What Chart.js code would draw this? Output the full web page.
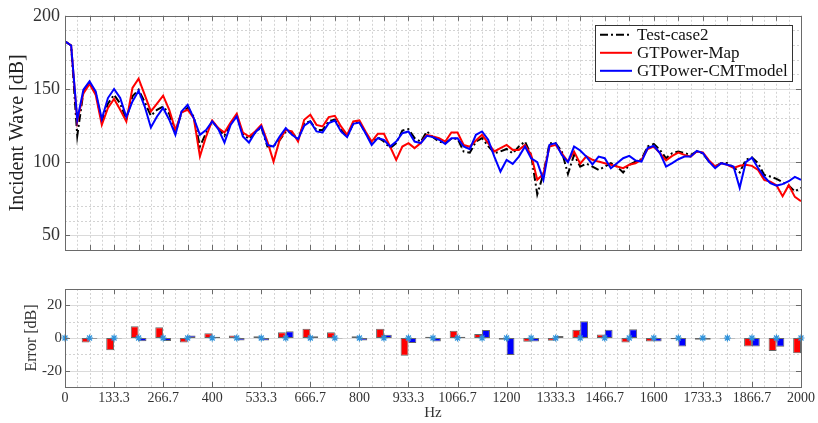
<!DOCTYPE html>
<html>
<head>
<meta charset="utf-8">
<title>Incident wave spectrum</title>
<script src="https://cdn.jsdelivr.net/npm/chart.js@4.4.0/dist/chart.umd.min.js"></script>
<style>
  body { margin: 0; background: #fff; }
  #wrap { position: relative; width: 818px; height: 423px; }
  canvas { position: absolute; left: 0; }
  #wave { top: 0; }
  #err { top: 270px; }
</style>
</head>
<body>
<div id="wrap">
  <canvas id="wave" width="818" height="270"></canvas>
  <canvas id="err" width="818" height="153"></canvas>
</div>
<script>
// spectrum, one value per 16.67 Hz bin from 0 to 2000 Hz
const waveTest = [
  182.6, 179.7, 118, 148, 154, 147, 128, 140, 146, 140,
  129, 145, 149.5, 141, 131.7, 135.8, 138, 133, 120, 134,
  137, 131, 110.7, 120, 128, 123, 118, 126, 132, 119,
  116, 120, 124, 110.7, 111, 115, 121, 120, 116, 126.7,
  127.8, 122, 122, 128, 129, 122, 117.5, 126.5, 127.5, 120,
  113, 117, 114.1, 109.6, 113, 121.6, 122.6, 116.4, 114, 121,
  117, 114, 113, 116, 116, 107.3, 106.5, 114, 116.4, 111,
  106.2, 107.3, 109, 106, 110.7, 114.1, 105, 78, 92, 113,
  113, 107.3, 92, 105, 97, 99, 97, 94.7, 97, 99.3,
  97, 92.9, 98.2, 100.4, 102, 110.7, 112.5, 108.4, 102.7, 106.2,
  107.3, 106.2, 105, 107.3, 106, 100.4, 97, 99.5, 99.3, 96.5,
  93, 101.6, 103.2, 99.3, 91.3, 90.2, 88.6, 86.3, 84, 80, 82.5
];
const waveMap = [
  182.6, 179.7, 127.8, 147, 153.4, 146, 125.5, 137, 143.2, 135.8,
  127.8, 150.7, 157, 146, 134.7, 140, 145.4, 135.8, 122, 134,
  135.8, 130, 104, 117.5, 128.5, 123.3, 120.3, 127.1, 133.1, 120.3,
  117.5, 121, 125.5, 114.1, 100.4, 115.3, 122, 121, 114.1, 129,
  132.4, 125.5, 124.4, 130.8, 131.7, 124.4, 118.7, 127.8, 128.5, 121,
  114.1, 119.4, 119.4, 110.7, 101.6, 110.7, 113, 109.6, 113, 118.7,
  117.5, 116.4, 114.1, 120.3, 120.3, 111.8, 110.5, 114.8, 118.7, 113,
  107.3, 109.6, 111.8, 108.4, 108.4, 111.8, 105, 88, 92, 110.7,
  111.8, 106, 100.4, 107.3, 99, 104, 101.6, 100.4, 99.3, 98.2,
  97, 95.9, 98.2, 99.3, 101.6, 109, 110.7, 106.2, 101.2, 104.3,
  106.6, 105, 103.8, 107.3, 106.6, 101.2, 97, 99.3, 98.2, 96,
  97.5, 98.2, 97.5, 94.7, 87.9, 86.6, 84.3, 76.7, 84.3, 76.3, 73.3
];
const waveCmt = [
  182.6, 179.7, 129, 149.5, 155.2, 148.4, 129.5, 143.8, 150, 143.8,
  130.8, 141.5, 148.8, 138, 123.7, 131.2, 137, 129, 118.7, 134.7,
  139.2, 130, 118.7, 122, 127.8, 122.6, 113.4, 125.5, 131.2, 117.5,
  113.4, 120.3, 124.4, 111.8, 110.7, 117.5, 123.3, 118.7, 115.8, 124.9,
  127.8, 121, 120.3, 126.7, 128.5, 121, 117.1, 126.2, 127.1, 119.8,
  111.8, 116.4, 115.3, 110.7, 114.1, 119.8, 121, 114.1, 113, 118,
  117.1, 115.3, 112.5, 116.4, 116.4, 110.7, 108.9, 118.7, 121, 115.3,
  103.8, 93.6, 101.6, 98.8, 103.8, 110.7, 102.7, 100, 88, 111.8,
  113, 105, 100, 110.7, 108, 103.8, 98.5, 103.8, 102.7, 95.9,
  99.3, 102.7, 104.3, 101.2, 100.4, 109.6, 111.2, 106.2, 97, 99.3,
  102, 103.8, 103.8, 107.7, 106.2, 100.4, 95.9, 99.3, 98.2, 97,
  82.5, 100, 103, 96, 90, 85.6, 84, 85, 87, 90, 88
];
const waveHz = waveTest.map((_, i) => i * 2000 / 120);

// error against the test case, every 66.7 Hz
const errMap = [0, -2.7, -7.5, 7.2, 6.6, -2.8, 2.9, 1.5, 1, 3.5, 5.6, 3.5, 1, 5.6, -10.8, 0.8,
  4.5, 2.5, -1, -2.3, -1.7, 5.1, 2.1, -2.7, -2.2, -0.8, -1.1, -0.3, -5.2, -7.9, -9.3];
const errCmt = [0, -0.5, -0.3, -2, -1.8, 1.5, 0.8, -1.6, -1.6, 4.1, 1, -0.3, -1.6, 2, -3.1, -2.2,
  0.8, 4.9, -10.4, -2.1, 1.2, 10.3, 5.1, 5.3, -2.2, -5.2, -1.1, -0.3, -5.2, -5.4, -4];
const errHz = errMap.map((_, i) => i * 2000 / 30);

const waveTicks = [50, 100, 150, 200];
const errTicks = [-20, 0, 20];
const hzTickLabels = ['0', '133.3', '266.7', '400', '533.3', '666.7', '800', '933.3', '1066.7',
  '1200', '1333.3', '1466.7', '1600', '1733.3', '1866.7', '2000'];
const hzTicks = hzTickLabels.map((_, i) => i * 2000 / 15);

const SERIF = "'Liberation Serif', 'Times New Roman', serif";
const TXT = '#333';

const xy = (xs, ys) => ys.map((y, i) => ({ x: xs[i], y }));
const crisp = v => Math.round(v) + 0.5;

// grid, box and inward tick marks in the old matlab look
const matlabAxes = {
  id: 'matlabAxes',
  beforeDatasetsDraw(chart, args, o) {
    const { ctx, chartArea: a, scales: { x, y } } = chart;
    ctx.save();
    ctx.lineWidth = 1;
    ctx.strokeStyle = '#d3d3d3';
    ctx.setLineDash([2, 2]);
    ctx.beginPath();
    const nx = Math.round((x.max - x.min) / o.xMinor);
    for (let k = 1; k < nx; k++) {
      const px = crisp(x.getPixelForValue(x.min + k * o.xMinor));
      ctx.moveTo(px, a.top); ctx.lineTo(px, a.bottom);
    }
    const ny = Math.round((y.max - y.min) / o.yMinor);
    for (let k = 1; k < ny; k++) {
      const py = crisp(y.getPixelForValue(y.min + k * o.yMinor));
      ctx.moveTo(a.left, py); ctx.lineTo(a.right, py);
    }
    ctx.stroke();
    ctx.setLineDash([]);
    ctx.strokeStyle = '#dadada';
    ctx.beginPath();
    o.yMajor.forEach(v => {
      const py = crisp(y.getPixelForValue(v));
      ctx.moveTo(a.left, py); ctx.lineTo(a.right, py);
    });
    ctx.stroke();
    ctx.restore();
  },
  afterDatasetsDraw(chart, args, o) {
    const { ctx, chartArea: a, scales: { x, y } } = chart;
    const t = 5;
    ctx.save();
    ctx.lineWidth = 1;
    ctx.strokeStyle = '#6a6a6a';
    ctx.beginPath();
    o.xMajor.forEach(v => {
      const px = crisp(x.getPixelForValue(v));
      ctx.moveTo(px, a.bottom); ctx.lineTo(px, a.bottom - t);
      ctx.moveTo(px, a.top); ctx.lineTo(px, a.top + t);
    });
    o.yMajor.forEach(v => {
      const py = crisp(y.getPixelForValue(v));
      ctx.moveTo(a.left, py); ctx.lineTo(a.left + t, py);
      ctx.moveTo(a.right, py); ctx.lineTo(a.right - t, py);
    });
    ctx.stroke();
    ctx.strokeRect(crisp(a.left), crisp(a.top), Math.round(a.right - a.left), Math.round(a.bottom - a.top));
    ctx.restore();
  }
};

// boxed legend in the upper right corner of the plot
const boxLegend = {
  id: 'boxLegend',
  afterDraw(chart) {
    const { ctx, chartArea: a } = chart;
    const w = 197, h = 56;
    const x0 = a.right - 9 - w, y0 = a.top + 9;
    ctx.save();
    ctx.fillStyle = '#fff';
    ctx.fillRect(x0, y0, w, h);
    ctx.strokeStyle = '#333';
    ctx.lineWidth = 1;
    ctx.strokeRect(crisp(x0), crisp(y0), w, h);
    ctx.font = '17px ' + SERIF;
    ctx.textBaseline = 'middle';
    chart.data.datasets.forEach((ds, i) => {
      const ry = y0 + 10 + i * 18;
      ctx.strokeStyle = ds.borderColor;
      ctx.lineWidth = ds.borderWidth;
      ctx.setLineDash(ds.borderDash || []);
      ctx.beginPath();
      ctx.moveTo(x0 + 5, ry); ctx.lineTo(x0 + 37, ry);
      ctx.stroke();
      ctx.setLineDash([]);
      ctx.fillStyle = '#111';
      ctx.fillText(ds.label, x0 + 42, ry + 1);
    });
    ctx.restore();
  }
};

const leftAxisWidth = scale => { scale.width = 65; };

new Chart(document.getElementById('wave'), {
  type: 'line',
  data: {
    datasets: [
      { label: 'Test-case2', data: xy(waveHz, waveTest), borderColor: '#000', borderWidth: 2,
        borderDash: [8, 3, 2, 3], order: 2 },
      { label: 'GTPower-Map', data: xy(waveHz, waveMap), borderColor: '#ff0000', borderWidth: 2, order: 1 },
      { label: 'GTPower-CMTmodel', data: xy(waveHz, waveCmt), borderColor: '#0000ff', borderWidth: 2, order: 0 }
    ]
  },
  options: {
    responsive: false,
    animation: false,
    layout: { padding: { top: 15.5, right: 17, bottom: 20, left: 0 } },
    elements: { point: { radius: 0 }, line: { tension: 0 } },
    plugins: {
      legend: { display: false },
      tooltip: { enabled: false },
      matlabAxes: { xMinor: 2000 / 60, yMinor: 10, xMajor: errHz, yMajor: waveTicks }
    },
    scales: {
      x: { type: 'linear', min: 0, max: 2000, display: false },
      y: {
        min: 40, max: 200,
        afterFit: leftAxisWidth,
        afterBuildTicks: s => { s.ticks = waveTicks.map(value => ({ value })); },
        grid: { display: false, drawTicks: false },
        border: { display: false },
        ticks: { color: TXT, padding: 5, font: { family: SERIF, size: 18 } },
        title: { display: true, text: 'Incident Wave [dB]', color: '#222', padding: { top: 6 },
          font: { family: SERIF, size: 20 } }
      }
    }
  },
  plugins: [matlabAxes, boxLegend]
});

new Chart(document.getElementById('err'), {
  type: 'bar',
  data: {
    datasets: [
      { type: 'line', data: errHz.map(x => ({ x, y: 0 })), showLine: false, clip: false,
        pointStyle: 'star', pointRadius: 3.5, borderColor: '#2f93dc', borderWidth: 1.2, order: 0 },
      { data: xy(errHz, errMap), backgroundColor: '#ff0000', borderColor: '#666', borderWidth: 1,
        borderSkipped: false, order: 1 },
      { data: xy(errHz, errCmt), backgroundColor: '#0000ff', borderColor: '#666', borderWidth: 1,
        borderSkipped: false, order: 1 }
    ]
  },
  options: {
    responsive: false,
    animation: false,
    layout: { padding: { top: 19, right: 17, bottom: 0, left: 0 } },
    datasets: { bar: { categoryPercentage: 0.64, barPercentage: 1 } },
    plugins: {
      legend: { display: false },
      tooltip: { enabled: false },
      matlabAxes: { xMinor: 2000 / 60, yMinor: 10, xMajor: hzTicks, yMajor: errTicks }
    },
    scales: {
      x: {
        type: 'linear', min: 0, max: 2000, offset: false,
        afterFit: s => { s.height = 36; },
        afterBuildTicks: s => { s.ticks = hzTicks.map(value => ({ value })); },
        grid: { display: false, drawTicks: false, offset: false },
        border: { display: false },
        ticks: { color: TXT, padding: 3, maxRotation: 0, autoSkip: false,
          font: { family: SERIF, size: 14 }, callback: (v, i) => hzTickLabels[i] },
        title: { display: true, text: 'Hz', color: TXT, padding: { top: 0, bottom: 1 },
          font: { family: SERIF, size: 15 } }
      },
      y: {
        min: -30, max: 30,
        afterFit: leftAxisWidth,
        afterBuildTicks: s => { s.ticks = errTicks.map(value => ({ value })); },
        grid: { display: false, drawTicks: false },
        border: { display: false },
        ticks: { color: TXT, padding: 3, font: { family: SERIF, size: 15 } },
        title: { display: true, text: 'Error [dB]', color: TXT, padding: { top: 22 },
          font: { family: SERIF, size: 16 } }
      }
    }
  },
  plugins: [matlabAxes]
});
</script>
</body>
</html>
